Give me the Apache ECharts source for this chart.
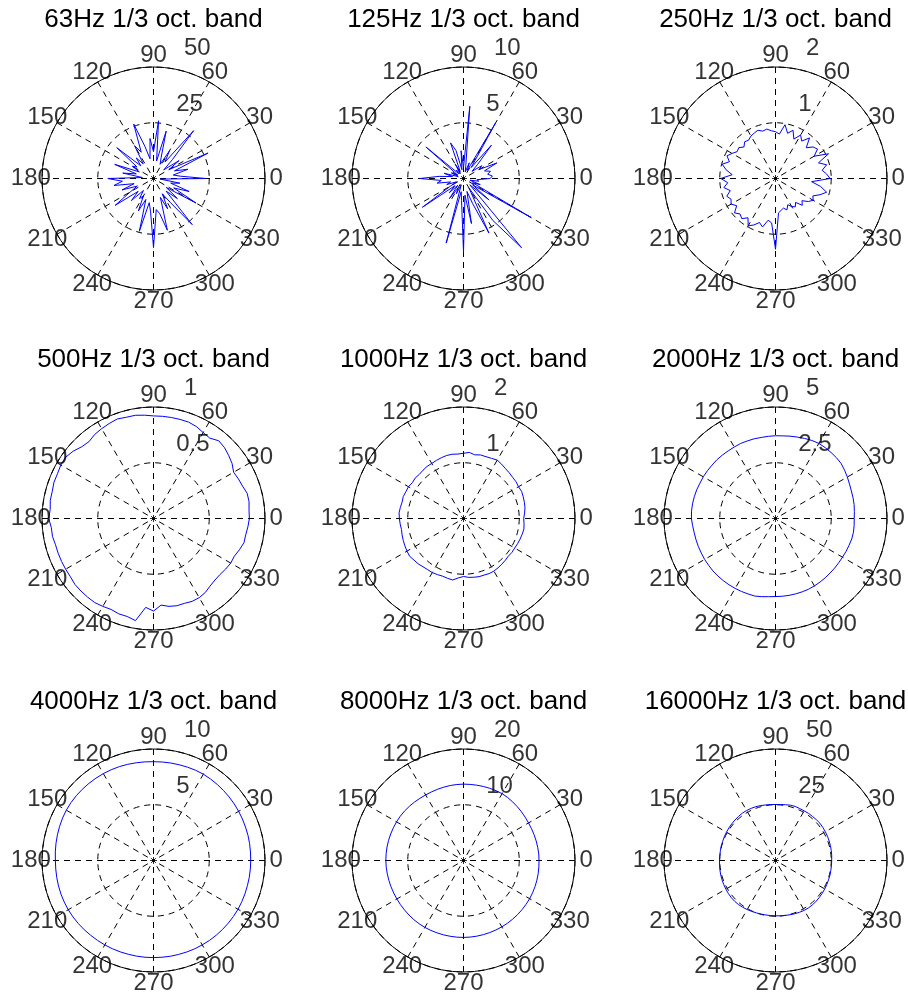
<!DOCTYPE html>
<html>
<head>
<meta charset="utf-8">
<script src="https://cdn.jsdelivr.net/npm/echarts@6/dist/echarts.min.js"></script>
<style>
  html, body { margin: 0; padding: 0; background: #fff; }
  #chart { width: 908px; height: 996px; }
</style>
</head>
<body>
<div id="chart"></div>
<script>
// Directivity of a source in nine 1/3-octave bands, measured every 5 degrees.
const bandTitles = [
  '63Hz 1/3 oct. band', '125Hz 1/3 oct. band', '250Hz 1/3 oct. band',
  '500Hz 1/3 oct. band', '1000Hz 1/3 oct. band', '2000Hz 1/3 oct. band',
  '4000Hz 1/3 oct. band', '8000Hz 1/3 oct. band', '16000Hz 1/3 oct. band'
];
const radiusMax = [50, 10, 2, 1, 2, 5, 10, 20, 50];
const radiusTickLabels = [
  ['25', '50'], ['5', '10'], ['1', '2'],
  ['0.5', '1'], ['1', '2'], ['2.5', '5'],
  ['5', '10'], ['10', '20'], ['25', '50']
];
const angleTicks = [0, 30, 60, 90, 120, 150, 180, 210, 240, 270, 300, 330];
const measAngles = [
  0, 5, 10, 15, 20, 25, 30, 35, 40, 45, 50, 55, 60, 65, 70, 75, 80, 85,
  90, 95, 100, 105, 110, 115, 120, 125, 130, 135, 140, 145, 150, 155, 160, 165, 170, 175,
  180, 185, 190, 195, 200, 205, 210, 215, 220, 225, 230, 235, 240, 245, 250, 255, 260, 265,
  270, 275, 280, 285, 290, 295, 300, 305, 310, 315, 320, 325, 330, 335, 340, 345, 350, 355
];

const band63 = [
  23.5, 12, 9, 16, 10, 27, 8, 14, 6, 12, 28, 9, 14, 7, 10, 22, 8, 26,
  12, 18, 9, 15, 26, 13, 17, 8, 12, 8, 21.5, 9, 11, 7, 18.5, 8, 14, 5,
  20.5, 14, 18, 9, 15, 8, 12, 21, 9, 14, 7, 11, 9, 16, 10, 24.5, 11, 15,
  31, 14, 16, 24, 9, 15, 8, 13, 27, 8, 14, 7, 22, 10, 17, 8, 12, 3
];
const band125 = [
  2.4, 2.6, 2.2, 2.5, 2.0, 3.3, 1.6, 2.0, 1.0, 1.8, 3.9, 1.2, 5.7, 0.8, 1.5, 0.6, 1.2, 6.5,
  1.0, 2.5, 0.8, 2.6, 3.4, 0.7, 1.5, 0.5, 1.0, 0.6, 4.4, 1.0, 0.6, 1.2, 0.5, 1.8, 1.0, 2.2,
  3.9, 2.0, 2.4, 1.2, 1.6, 0.7, 1.3, 4.5, 1.0, 1.8, 0.8, 2.2, 1.0, 1.5, 0.6, 6.0, 1.2, 2.0,
  6.6, 1.5, 4.1, 1.2, 2.4, 5.4, 1.0, 4.6, 8.1, 0.8, 3.0, 1.0, 7.0, 0.9, 1.6, 0.6, 1.4, 1.2
];
const band250 = [
  0.98, 0.92, 0.85, 0.95, 0.82, 1.05, 0.80, 0.92, 0.88, 0.78, 0.95, 0.82, 0.90, 0.78, 0.92, 0.84, 0.98, 0.80,
  0.84, 0.86, 0.90, 0.88, 0.92, 0.90, 0.88, 0.84, 0.86, 0.80, 0.86, 0.84, 0.90, 0.96, 0.88, 0.99, 0.90, 0.78,
  0.98, 0.86, 0.94, 0.84, 0.93, 0.88, 0.92, 0.85, 0.96, 0.90, 0.94, 0.86, 0.98, 0.92, 0.84, 0.90, 0.76, 0.80,
  1.27, 0.62, 0.58, 0.55, 0.60, 0.52, 0.58, 0.62, 0.56, 0.68, 0.62, 0.72, 0.78, 0.74, 0.85, 0.95, 0.82, 0.65
];
const band500 = [
  0.86, 0.86, 0.87, 0.87, 0.85, 0.84, 0.83, 0.86, 0.88, 0.90, 0.91, 0.88, 0.89, 0.91, 0.92, 0.92, 0.92, 0.92,
  0.92, 0.93, 0.94, 0.94, 0.95, 0.94, 0.93, 0.92, 0.90, 0.91, 0.94, 0.96, 0.96, 0.95, 0.95, 0.94, 0.94, 0.93,
  0.94, 0.92, 0.92, 0.91, 0.91, 0.91, 0.91, 0.91, 0.92, 0.92, 0.92, 0.92, 0.91, 0.90, 0.91, 0.91, 0.93, 0.80,
  0.83, 0.78, 0.80, 0.81, 0.81, 0.82, 0.82, 0.81, 0.79, 0.78, 0.78, 0.79, 0.80, 0.80, 0.82, 0.84, 0.84, 0.85
];
const band1000 = [
  1.08, 1.10, 1.12, 1.13, 1.14, 1.15, 1.14, 1.15, 1.15, 1.16, 1.17, 1.19, 1.21, 1.19, 1.18, 1.18, 1.16, 1.19,
  1.17, 1.16, 1.17, 1.17, 1.16, 1.15, 1.14, 1.14, 1.13, 1.12, 1.13, 1.12, 1.14, 1.14, 1.15, 1.14, 1.15, 1.16,
  1.15, 1.14, 1.13, 1.14, 1.15, 1.16, 1.17, 1.18, 1.16, 1.15, 1.13, 1.12, 1.12, 1.11, 1.10, 1.11, 1.12, 1.07,
  1.04, 1.06, 1.07, 1.08, 1.08, 1.09, 1.09, 1.08, 1.07, 1.06, 1.05, 1.06, 1.06, 1.07, 1.08, 1.09, 1.10, 1.09
];
const band2000 = [
  3.53, 3.55, 3.58, 3.60, 3.62, 3.66, 3.72, 3.78, 3.84, 3.86, 3.87, 3.88, 3.89, 3.86, 3.82, 3.78, 3.75, 3.72,
  3.71, 3.70, 3.69, 3.70, 3.70, 3.71, 3.70, 3.70, 3.71, 3.72, 3.72, 3.73, 3.74, 3.74, 3.76, 3.77, 3.78, 3.78,
  3.77, 3.73, 3.70, 3.69, 3.68, 3.67, 3.67, 3.66, 3.66, 3.65, 3.64, 3.63, 3.62, 3.61, 3.60, 3.60, 3.56, 3.52,
  3.50, 3.50, 3.50, 3.50, 3.50, 3.50, 3.49, 3.48, 3.47, 3.46, 3.46, 3.46, 3.47, 3.49, 3.51, 3.54, 3.55, 3.54
];
const band4000 = [
  8.72, 8.73, 8.75, 8.77, 8.78, 8.80, 8.82, 8.84, 8.86, 8.88, 8.90, 8.92, 8.94, 8.93, 8.91, 8.89, 8.88, 8.87,
  8.86, 8.88, 8.90, 8.93, 8.96, 8.98, 9.00, 9.01, 9.02, 9.03, 9.04, 9.04, 9.03, 9.00, 8.96, 8.92, 8.88, 8.84,
  8.80, 8.80, 8.81, 8.82, 8.83, 8.83, 8.83, 8.82, 8.80, 8.78, 8.76, 8.75, 8.74, 8.73, 8.72, 8.71, 8.71, 8.71,
  8.71, 8.71, 8.72, 8.72, 8.73, 8.74, 8.74, 8.75, 8.75, 8.75, 8.75, 8.75, 8.75, 8.74, 8.73, 8.72, 8.72, 8.72
];
const band8000 = [
  13.55, 13.55, 13.52, 13.50, 13.48, 13.47, 13.47, 13.52, 13.58, 13.65, 13.72, 13.80, 13.85, 13.82, 13.78, 13.75, 13.72, 13.70,
  13.70, 13.68, 13.66, 13.62, 13.60, 13.58, 13.58, 13.62, 13.68, 13.74, 13.80, 13.85, 13.87, 13.88, 13.90, 13.92, 13.93, 13.93,
  13.93, 13.91, 13.88, 13.85, 13.83, 13.81, 13.80, 13.80, 13.81, 13.83, 13.85, 13.86, 13.86, 13.84, 13.82, 13.81, 13.80, 13.80,
  13.80, 13.79, 13.78, 13.77, 13.76, 13.75, 13.75, 13.74, 13.73, 13.72, 13.71, 13.70, 13.70, 13.68, 13.66, 13.63, 13.60, 13.57
];
const band16000 = [
  25.2, 25.3, 25.4, 25.5, 25.6, 25.7, 25.8, 25.9, 26.0, 25.9, 25.8, 25.8, 25.7, 25.7, 25.8, 25.7, 25.4, 25.2,
  25.1, 25.2, 25.3, 25.5, 25.7, 25.8, 25.9, 25.9, 25.8, 25.7, 25.6, 25.5, 25.4, 25.3, 25.2, 25.2, 25.1, 25.1,
  25.1, 25.2, 25.3, 25.4, 25.5, 25.6, 25.7, 25.8, 25.9, 25.9, 25.8, 25.6, 25.4, 25.2, 25.0, 24.9, 24.8, 24.8,
  24.8, 24.9, 25.0, 25.2, 25.4, 25.6, 25.8, 25.9, 25.9, 25.8, 25.7, 25.6, 25.5, 25.4, 25.3, 25.3, 25.2, 25.2
];
const bandLevels = [band63, band125, band250, band500, band1000, band2000, band4000, band8000, band16000];

// Layout of the 3 x 3 grid of polar plots (half-pixel centres keep 1px lines crisp).
const FONT = '"Liberation Sans", Arial, Helvetica, sans-serif';
const colX = [153.5, 463.5, 775.5];
const rowY = [178.5, 518.5, 860.5];
const R = 111.5;
const dash = { color: '#000', width: 1, type: [6, 5] };
const asterisk = 'path://M5,0L5,10M0,5L10,5M1.5,1.5L8.5,8.5M1.5,8.5L8.5,1.5';

const polar = [], angleAxis = [], radiusAxis = [], series = [], graphic = [];

bandTitles.forEach((title, i) => {
  const cx = colX[i % 3];
  const cy = rowY[Math.floor(i / 3)];
  const rmax = radiusMax[i];

  polar.push({ center: [cx, cy], radius: R });
  angleAxis.push({
    polarIndex: i, type: 'value', min: 0, max: 360, interval: 30,
    startAngle: 0, clockwise: false,
    axisLine: { show: true, lineStyle: { color: '#000', width: 1 } },
    axisTick: { show: false }, axisLabel: { show: false },
    splitLine: { show: true, lineStyle: dash }
  });
  radiusAxis.push({
    polarIndex: i, type: 'value', min: 0, max: rmax, interval: rmax / 2,
    axisLine: { show: false }, axisTick: { show: false }, axisLabel: { show: false },
    splitLine: { show: true, lineStyle: dash }
  });

  // measured curve, closed back onto its first sample
  const levels = bandLevels[i];
  const pts = levels.map((v, k) => [v, measAngles[k]]);
  pts.push([levels[0], 360]);
  series.push({
    type: 'line', coordinateSystem: 'polar', polarIndex: i,
    data: pts, symbol: 'none', smooth: false, clip: false,
    lineStyle: { color: '#0000ff', width: 1 }, z: 4, silent: true
  });

  // centre marker
  series.push({
    type: 'scatter', coordinateSystem: 'polar', polarIndex: i,
    data: [[0, 0]], symbol: asterisk, symbolSize: 7, z: 5, silent: true,
    itemStyle: { color: 'none', borderColor: '#000', borderWidth: 1 }
  });

  // angle labels, centred at 1.1 x the outer radius
  series.push({
    type: 'scatter', coordinateSystem: 'polar', polarIndex: i, clip: false, silent: true,
    data: angleTicks.map(a => ({ value: [rmax * 1.1, a], name: String(a) })),
    symbolSize: 1, itemStyle: { color: 'rgba(0,0,0,0)' }, z: 6,
    label: {
      show: true, position: 'inside', formatter: '{b}',
      color: '#000', fontFamily: FONT, fontSize: 24, align: 'center', verticalAlign: 'middle'
    }
  });

  // radius labels along the 82 degree direction
  series.push({
    type: 'scatter', coordinateSystem: 'polar', polarIndex: i, clip: false, silent: true,
    data: [
      { value: [rmax * 0.525, 82], name: radiusTickLabels[i][0] },
      { value: [rmax * 1.025, 82], name: radiusTickLabels[i][1] }
    ],
    symbolSize: 1, itemStyle: { color: 'rgba(0,0,0,0)' }, z: 6,
    label: {
      show: true, position: [0, 0], offset: [15, -4], formatter: '{b}',
      color: '#000', fontFamily: FONT, fontSize: 24, align: 'left', verticalAlign: 'bottom'
    }
  });

  graphic.push({
    type: 'text', x: cx, y: cy - 159, silent: true,
    style: {
      text: title, fill: '#000', font: '26px ' + FONT,
      align: 'center', verticalAlign: 'middle'
    }
  });
});

const chart = echarts.init(document.getElementById('chart'), null, { renderer: 'canvas' });
chart.setOption({
  animation: false,
  backgroundColor: '#fff',
  polar, angleAxis, radiusAxis, series, graphic
});
</script>
</body>
</html>
